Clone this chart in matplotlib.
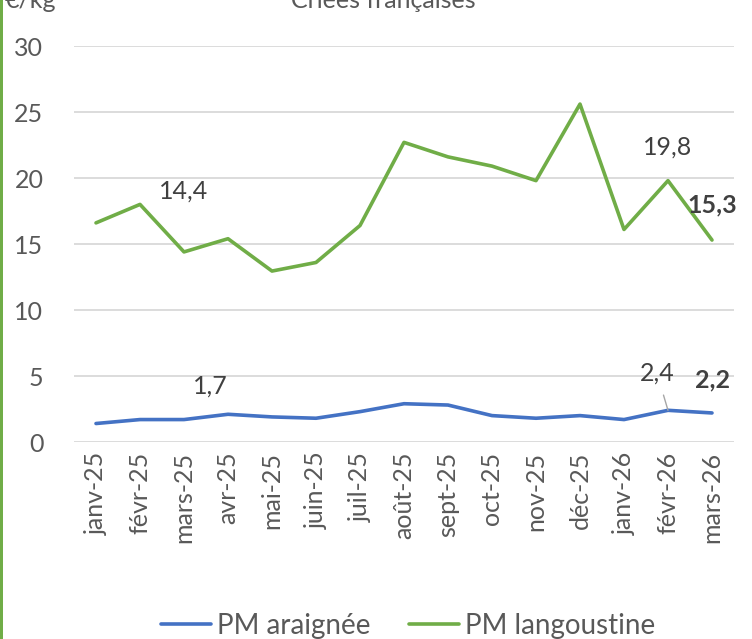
import numpy as np
import matplotlib.pyplot as plt
from matplotlib import patches

# data
months = ["janv-25", "févr-25", "mars-25", "avr-25", "mai-25", "juin-25", "juil-25",
          "août-25", "sept-25", "oct-25", "nov-25", "déc-25", "janv-26", "févr-26", "mars-26"]
araignee = [1.4, 1.7, 1.7, 2.1, 1.9, 1.8, 2.3, 2.9, 2.8, 2.0, 1.8, 2.0, 1.7, 2.4, 2.2]
langoustine = [16.6, 18.0, 14.4, 15.4, 12.95, 13.6, 16.4, 22.7, 21.6, 20.9, 19.8, 25.6, 16.1, 19.8, 15.3]

plt.rcParams['font.family'] = ['Lato', 'DejaVu Sans']
grey = '#595959'
blue = '#4472c4'
green = '#70ad47'

fig = plt.figure(figsize=(7.52, 6.39), dpi=100)
ax = fig.add_axes([74/752, 1-442/639, 660/752, 396/639])

x = np.arange(len(months))
ax.plot(x, araignee, color=blue, lw=2.6, solid_capstyle='round', label='PM araignée')
ax.plot(x, langoustine, color=green, lw=2.6, solid_capstyle='round', label='PM langoustine')

ax.set_xlim(-0.5, len(months)-0.5)
ax.set_ylim(0, 30)
ax.set_yticks(range(0, 31, 5))
ax.set_xticks(x)
ax.set_xticklabels(months, rotation=90, va='top', ha='center')
ax.tick_params(length=0, labelsize=18, labelcolor=grey)
ax.tick_params(axis='x', pad=7)
ax.tick_params(axis='y', pad=22)
ax.grid(axis='y', color='#d9d9d9', lw=1.3)
ax.set_axisbelow(True)
for s in ax.spines.values():
    s.set_visible(False)

def lab(i, vals, dx, dy, bold=False):
    t = f"{vals[i]:.1f}".replace('.', ',')
    ax.annotate(t, (i, vals[i]), xytext=(dx, dy), textcoords='offset points',
                ha='center', va='center', fontsize=18, color='#404040',
                fontweight='bold' if bold else 'normal')

lab(2, langoustine, 0, 44)
lab(13, langoustine, 0, 24)
lab(14, langoustine, 0, 25, bold=True)
lab(2, araignee, 19, 24)
lab(14, araignee, 0, 24, bold=True)
ax.annotate("2,4", (13, araignee[13]), xytext=(-8, 27), textcoords='offset points',
            ha='center', va='center', fontsize=18, color='#404040',
            arrowprops=dict(arrowstyle='-', color='#a6a6a6', lw=1, shrinkA=6, shrinkB=0))

# cut-off header texts
fig.text(383/752, 1.0, "Criées françaises", ha='center', va='center', fontsize=18, color=grey)
fig.text(5/752, 1.0, "€/kg", ha='left', va='center', fontsize=18, color=grey)

leg = fig.legend(loc='center', bbox_to_anchor=(408/752, 1-626/639), ncol=2, frameon=False,
                 fontsize=20, labelcolor=grey, handlelength=1.8, handletextpad=0.2,
                 columnspacing=1.4)

# green frame edge at left
fig.add_artist(patches.Rectangle((0, 0), 3/752, 1, transform=fig.transFigure,
                                 color=green, lw=0))

fig.savefig('out.png', dpi=100)
